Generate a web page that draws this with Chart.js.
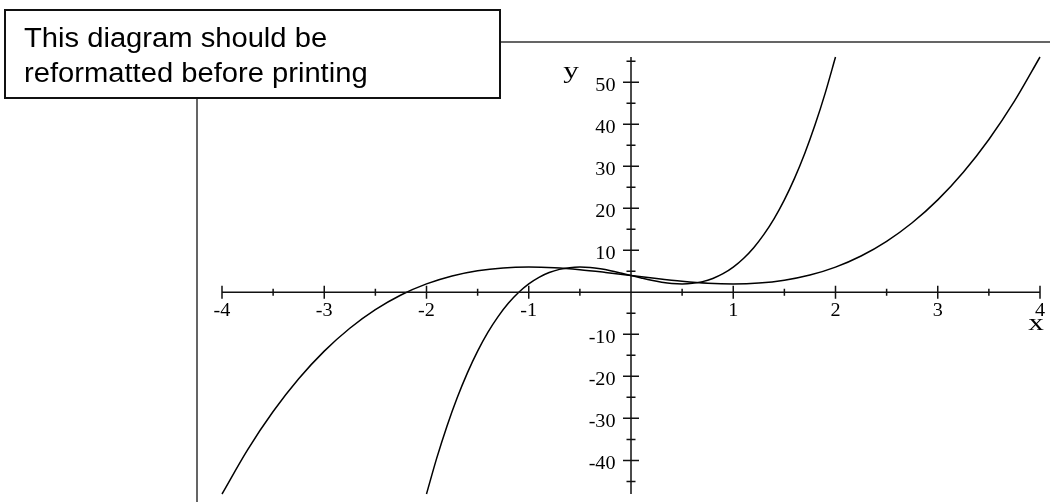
<!DOCTYPE html>
<html>
<head>
<meta charset="utf-8">
<script src="https://cdn.jsdelivr.net/npm/chart.js@4"></script>
<style>
  html, body { margin: 0; padding: 0; background: #fff; }
  #wrap { position: relative; width: 1050px; height: 502px; overflow: hidden; }
  #plot { position: absolute; left: 0; top: 0; }
  #note {
    position: absolute; left: 4px; top: 9px; width: 497px; height: 90px;
    box-sizing: border-box; border: 2px solid #111; background: #fff;
    padding: 10px 0 0 18px;
    font-family: "Liberation Sans", Arial, sans-serif; font-size: 27px; line-height: 35px;
    color: #000;
  }
  #note span { display: block; transform: scaleX(1.08); transform-origin: left center; white-space: nowrap; }
</style>
</head>
<body>
<div id="wrap">
  <canvas id="plot" width="1050" height="502"></canvas>
  <div id="note"><span>This diagram should be</span><span>reformatted before printing</span></div>
</div>
<script>
// wide curve, sampled every 0.25
const curveAX = [-4, -3.75, -3.5, -3.25, -3, -2.75, -2.5, -2.25, -2, -1.75, -1.5, -1.25, -1, -0.75, -0.5, -0.25,
  0, 0.25, 0.5, 0.75, 1, 1.25, 1.5, 1.75, 2, 2.25, 2.5, 2.75, 3, 3.25, 3.5, 3.75, 4];
const curveAY = [-48, -37.48, -28.38, -20.58, -14, -8.55, -4.13, -0.64, 2, 3.89, 5.13, 5.8, 6, 5.83, 5.38, 4.73,
  4, 3.27, 2.63, 2.17, 2, 2.2, 2.88, 4.11, 6, 8.64, 12.13, 16.55, 22, 28.58, 36.38, 45.48, 56];

// steep curve, sampled every 0.1
const curveBX = [-2, -1.9, -1.8, -1.7, -1.6, -1.5, -1.4, -1.3, -1.2, -1.1, -1, -0.9, -0.8, -0.7, -0.6, -0.5, -0.4,
  -0.3, -0.2, -0.1, 0, 0.1, 0.2, 0.3, 0.4, 0.5, 0.6, 0.7, 0.8, 0.9, 1, 1.1, 1.2, 1.3, 1.4, 1.5, 1.6, 1.7, 1.8, 1.9, 2];
const curveBY = [-48, -39.47, -31.86, -25.1, -19.17, -14, -9.55, -5.78, -2.62, -0.05, 2, 3.57, 4.7, 5.46, 5.87, 6,
  5.89, 5.58, 5.14, 4.59, 4, 3.41, 2.86, 2.42, 2.11, 2, 2.13, 2.54, 3.3, 4.43, 6, 8.05, 10.62, 13.78, 17.55, 22,
  27.17, 33.1, 39.86, 47.47, 56];

// axis ticks
const xMajorTicks = [-4, -3, -2, -1, 0, 1, 2, 3, 4];
const xMinorTicks = [-3.5, -2.5, -1.5, -0.5, 0.5, 1.5, 2.5, 3.5];
const xTickLabels = ["-4", "-3", "-2", "-1", "", "1", "2", "3", "4"];
const yMajorTicks = [-40, -30, -20, -10, 10, 20, 30, 40, 50];
const yMinorTicks = [-45, -35, -25, -15, -5, 5, 15, 25, 35, 45, 55];
const yTickLabels = ["-40", "-30", "-20", "-10", "10", "20", "30", "40", "50"];

const xRange = [-4, 4];
const yRange = [-48, 56];

function toPoints(xs, ys) {
  return xs.map((x, i) => ({ x: x, y: ys[i] }));
}

// stretched serif text, like the old plot output
function stretchedText(ctx, text, x, y, size, sx, align) {
  ctx.save();
  ctx.font = size + "px 'Liberation Serif', 'Times New Roman', serif";
  ctx.textBaseline = "alphabetic";
  const w = ctx.measureText(text).width * sx;
  let left = x;
  if (align === "center") left = x - w / 2;
  else if (align === "right") left = x - w;
  ctx.translate(left, y);
  ctx.scale(sx, 1);
  ctx.fillStyle = "#000";
  ctx.fillText(text, 0, 0);
  ctx.restore();
}

const crossedAxes = {
  id: "crossedAxes",
  beforeDraw(chart) {
    const ctx = chart.ctx;
    ctx.save();
    ctx.fillStyle = "#fff";
    ctx.fillRect(0, 0, chart.width, chart.height);
    // page frame, partly hidden by the note box
    ctx.strokeStyle = "#333";
    ctx.lineWidth = 1.5;
    ctx.beginPath();
    ctx.moveTo(197, 503);
    ctx.lineTo(197, 42);
    ctx.lineTo(1051, 42);
    ctx.stroke();
    ctx.restore();
  },
  afterDatasetsDraw(chart) {
    const ctx = chart.ctx;
    const sx = chart.scales.x, sy = chart.scales.y;
    const ox = sx.getPixelForValue(0), oy = sy.getPixelForValue(0);
    ctx.save();
    ctx.strokeStyle = "#111";
    ctx.lineWidth = 1.5;
    ctx.beginPath();
    ctx.moveTo(sx.getPixelForValue(xRange[0]), oy);
    ctx.lineTo(sx.getPixelForValue(xRange[1]), oy);
    ctx.moveTo(ox, sy.getPixelForValue(yRange[0]));
    ctx.lineTo(ox, sy.getPixelForValue(yRange[1]));
    xMajorTicks.forEach(v => {
      const p = sx.getPixelForValue(v);
      ctx.moveTo(p, oy - 6.5); ctx.lineTo(p, oy + 6.5);
    });
    xMinorTicks.forEach(v => {
      const p = sx.getPixelForValue(v);
      ctx.moveTo(p, oy - 3.5); ctx.lineTo(p, oy + 3.5);
    });
    yMajorTicks.forEach(v => {
      const p = sy.getPixelForValue(v);
      ctx.moveTo(ox - 8, p); ctx.lineTo(ox + 8, p);
    });
    yMinorTicks.forEach(v => {
      const p = sy.getPixelForValue(v);
      ctx.moveTo(ox - 4.5, p); ctx.lineTo(ox + 4.5, p);
    });
    ctx.stroke();
    ctx.restore();

    xMajorTicks.forEach((v, i) => {
      if (xTickLabels[i]) stretchedText(ctx, xTickLabels[i], sx.getPixelForValue(v), oy + 24, 18, 1.12, "center");
    });
    yMajorTicks.forEach((v, i) => {
      stretchedText(ctx, yTickLabels[i], ox - 15.5, sy.getPixelForValue(v) + 8.5, 18, 1.12, "right");
    });
    stretchedText(ctx, "y", ox - 60, sy.getPixelForValue(yRange[1]) + 21, 24, 1.3, "center");
    stretchedText(ctx, "x", sx.getPixelForValue(xRange[1]) - 4, oy + 38, 24, 1.3, "center");
  }
};

new Chart(document.getElementById("plot").getContext("2d"), {
  type: "scatter",
  data: {
    datasets: [
      {
        data: toPoints(curveAX, curveAY),
        showLine: true,
        borderColor: "#000",
        borderWidth: 1.5,
        pointRadius: 0,
        cubicInterpolationMode: "monotone",
        clip: 4
      },
      {
        data: toPoints(curveBX, curveBY),
        showLine: true,
        borderColor: "#000",
        borderWidth: 1.5,
        pointRadius: 0,
        cubicInterpolationMode: "monotone",
        clip: 4
      }
    ]
  },
  options: {
    responsive: false,
    animation: false,
    devicePixelRatio: 1,
    layout: { padding: { left: 222, right: 10, top: 57, bottom: 8 } },
    plugins: { legend: { display: false }, tooltip: { enabled: false } },
    scales: {
      x: { type: "linear", min: xRange[0], max: xRange[1], display: false },
      y: { type: "linear", min: yRange[0], max: yRange[1], display: false }
    }
  },
  plugins: [crossedAxes]
});
</script>
</body>
</html>
